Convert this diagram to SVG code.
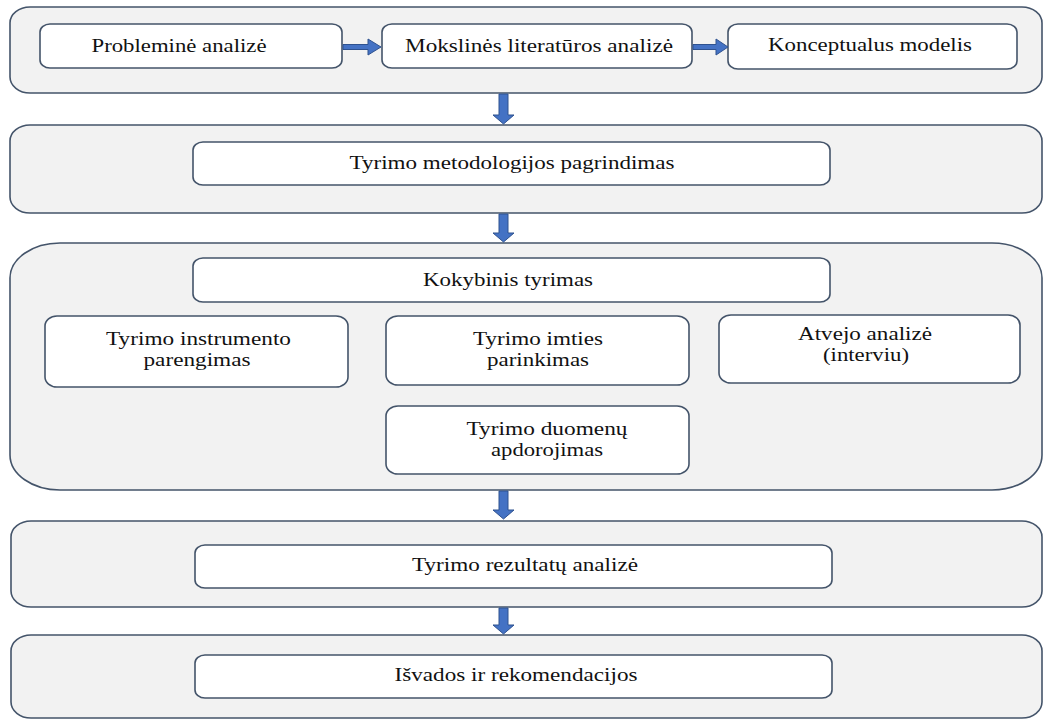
<svg xmlns="http://www.w3.org/2000/svg" width="1045" height="720" viewBox="0 0 1045 720">
<style>
.cont{fill:#f2f2f2;stroke:#44546a;stroke-width:1.6}
.box{fill:#ffffff;stroke:#44546a;stroke-width:1.6}
.t{font-family:'Liberation Serif','Times New Roman','DejaVu Serif',serif;font-size:18.5px;fill:#111;text-anchor:middle}
.arr{fill:#4472c4;stroke:#2f528f;stroke-width:1}
</style>
<rect width="1045" height="720" fill="#ffffff"/>
<g id="stage1">
<rect class="cont" x="10" y="7" width="1032" height="86" rx="20" ry="16"/>
</g>
<g id="problemine">
<rect class="box" x="40" y="24" width="302" height="44" rx="10" ry="8"/>
<text class="t" x="179" y="52" textLength="175" lengthAdjust="spacingAndGlyphs">Probleminė analizė</text>
</g>
<g id="mokslines">
<rect class="box" x="382" y="24" width="310" height="44" rx="10" ry="8"/>
<text class="t" x="539" y="52" textLength="268" lengthAdjust="spacingAndGlyphs">Mokslinės literatūros analizė</text>
</g>
<g id="konceptualus">
<rect class="box" x="728" y="24" width="289" height="45" rx="10" ry="8"/>
<text class="t" x="870" y="51" textLength="204" lengthAdjust="spacingAndGlyphs">Konceptualus modelis</text>
</g>
<g id="stage2">
<rect class="cont" x="10" y="125" width="1032" height="88" rx="20" ry="16"/>
</g>
<g id="metodologija">
<rect class="box" x="193" y="142" width="637" height="43" rx="10" ry="8"/>
<text class="t" x="512" y="169" textLength="325" lengthAdjust="spacingAndGlyphs">Tyrimo metodologijos pagrindimas</text>
</g>
<g id="stage3">
<rect class="cont" x="10" y="243" width="1032" height="247" rx="50" ry="35"/>
</g>
<g id="kokybinis">
<rect class="box" x="193" y="258" width="637" height="44" rx="10" ry="8"/>
<text class="t" x="508" y="286" textLength="170" lengthAdjust="spacingAndGlyphs">Kokybinis tyrimas</text>
</g>
<g id="instrumentas">
<rect class="box" x="45" y="316" width="303" height="71" rx="12" ry="10"/>
<text class="t" x="198.5" y="345" textLength="185" lengthAdjust="spacingAndGlyphs">Tyrimo instrumento</text>
<text class="t" x="197" y="366" textLength="107" lengthAdjust="spacingAndGlyphs">parengimas</text>
</g>
<g id="imtis">
<rect class="box" x="386" y="316" width="303" height="69" rx="12" ry="10"/>
<text class="t" x="538" y="345" textLength="130" lengthAdjust="spacingAndGlyphs">Tyrimo imties</text>
<text class="t" x="538" y="366" textLength="102" lengthAdjust="spacingAndGlyphs">parinkimas</text>
</g>
<g id="atvejo">
<rect class="box" x="719" y="315" width="301" height="68" rx="12" ry="10"/>
<text class="t" x="865" y="340" textLength="134" lengthAdjust="spacingAndGlyphs">Atvejo analizė</text>
<text class="t" x="866" y="361" textLength="86" lengthAdjust="spacingAndGlyphs">(interviu)</text>
</g>
<g id="duomenys">
<rect class="box" x="386" y="406" width="303" height="68" rx="12" ry="10"/>
<text class="t" x="547" y="435" textLength="161" lengthAdjust="spacingAndGlyphs">Tyrimo duomenų</text>
<text class="t" x="547" y="456" textLength="112" lengthAdjust="spacingAndGlyphs">apdorojimas</text>
</g>
<g id="stage4">
<rect class="cont" x="11" y="521" width="1031" height="86" rx="20" ry="16"/>
</g>
<g id="rezultatai">
<rect class="box" x="195" y="545" width="637" height="43" rx="10" ry="8"/>
<text class="t" x="525" y="571" textLength="226" lengthAdjust="spacingAndGlyphs">Tyrimo rezultatų analizė</text>
</g>
<g id="stage5">
<rect class="cont" x="11" y="635" width="1031" height="83" rx="20" ry="16"/>
</g>
<g id="isvados">
<rect class="box" x="195" y="655" width="637" height="43" rx="10" ry="8"/>
<text class="t" x="516" y="681" textLength="243" lengthAdjust="spacingAndGlyphs">Išvados ir rekomendacijos</text>
</g>
<g id="connectors">
<path class="arr" d="M343,44.5 H368 V39 L381,47 L368,55 V49.5 H343 Z"/>
<path class="arr" d="M693,44.5 H716 V39 L728,47 L716,55 V49.5 H693 Z"/>
<path class="arr" d="M499,94 H508 V115 H514 L503.5,124 L493,115 H499 Z"/>
<path class="arr" d="M499,214 H508 V233 H514 L503.5,242 L493,233 H499 Z"/>
<path class="arr" d="M499,491 H508 V510 H514 L503.5,519 L493,510 H499 Z"/>
<path class="arr" d="M499,608 H508 V625 H514 L503.5,634 L493,625 H499 Z"/>
</g>
</svg>
